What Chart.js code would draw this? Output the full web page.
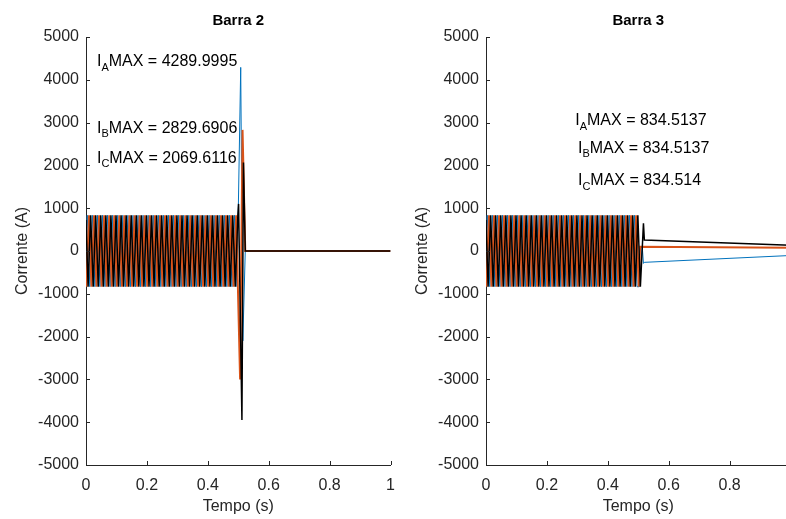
<!DOCTYPE html>
<html>
<head>
<meta charset="utf-8">
<title>Barra 2 / Barra 3</title>
<script src="https://cdn.jsdelivr.net/npm/chart.js@4.4.0/dist/chart.umd.min.js"></script>
<style>
    html, body { margin: 0; padding: 0; background: #fff; overflow: hidden; }
    #wrap { position: relative; width: 786px; height: 519px; overflow: hidden; }
    .box { position: absolute; top: 0; width: 406px; height: 519px; }
    #box2 { left: 0; z-index: 2; }
    #box3 { left: 400px; z-index: 1; }
</style>
</head>
<body>
<div id="wrap">
    <div class="box" id="box2"><canvas id="barra2" width="406" height="519"></canvas></div>
    <div class="box" id="box3"><canvas id="barra3" width="406" height="519"></canvas></div>
</div>
<script>
// pre-fault 60 Hz currents, same on both buses (peaks of each phase)
const tPreA = [0, 0.0042, 0.0125, 0.0208, 0.0292, 0.0375, 0.0458, 0.0542, 0.0625, 0.0708, 0.0792,
    0.0875, 0.0958, 0.1042, 0.1125, 0.1208, 0.1292, 0.1375, 0.1458, 0.1542, 0.1625,
    0.1708, 0.1792, 0.1875, 0.1958, 0.2042, 0.2125, 0.2208, 0.2292, 0.2375, 0.2458,
    0.2542, 0.2625, 0.2708, 0.2792, 0.2875, 0.2958, 0.3042, 0.3125, 0.3208, 0.3292,
    0.3375, 0.3458, 0.3542, 0.3625, 0.3708, 0.3792, 0.3875, 0.3958, 0.4042, 0.4125,
    0.4208, 0.4292, 0.4375, 0.4458, 0.4542, 0.4625, 0.4708, 0.4792, 0.4875, 0.4958];
const iPreA = [0,
    834.5, -834.5, 834.5, -834.5, 834.5, -834.5, 834.5, -834.5, 834.5, -834.5,
    834.5, -834.5, 834.5, -834.5, 834.5, -834.5, 834.5, -834.5, 834.5, -834.5,
    834.5, -834.5, 834.5, -834.5, 834.5, -834.5, 834.5, -834.5, 834.5, -834.5,
    834.5, -834.5, 834.5, -834.5, 834.5, -834.5, 834.5, -834.5, 834.5, -834.5,
    834.5, -834.5, 834.5, -834.5, 834.5, -834.5, 834.5, -834.5, 834.5, -834.5,
    834.5, -834.5, 834.5, -834.5, 834.5, -834.5, 834.5, -834.5, 834.5, -834.5];

const tPreB = [0, 0.0014, 0.0097, 0.0181, 0.0264, 0.0347, 0.0431, 0.0514, 0.0597, 0.0681, 0.0764,
    0.0847, 0.0931, 0.1014, 0.1097, 0.1181, 0.1264, 0.1347, 0.1431, 0.1514, 0.1597,
    0.1681, 0.1764, 0.1847, 0.1931, 0.2014, 0.2097, 0.2181, 0.2264, 0.2347, 0.2431,
    0.2514, 0.2597, 0.2681, 0.2764, 0.2847, 0.2931, 0.3014, 0.3097, 0.3181, 0.3264,
    0.3347, 0.3431, 0.3514, 0.3597, 0.3681, 0.3764, 0.3847, 0.3931, 0.4014, 0.4097,
    0.4181, 0.4264, 0.4347, 0.4431, 0.4514, 0.4597, 0.4681, 0.4764, 0.4847, 0.4931];
const iPreB = [-722.7,
    -834.5, 834.5, -834.5, 834.5, -834.5, 834.5, -834.5, 834.5, -834.5, 834.5,
    -834.5, 834.5, -834.5, 834.5, -834.5, 834.5, -834.5, 834.5, -834.5, 834.5,
    -834.5, 834.5, -834.5, 834.5, -834.5, 834.5, -834.5, 834.5, -834.5, 834.5,
    -834.5, 834.5, -834.5, 834.5, -834.5, 834.5, -834.5, 834.5, -834.5, 834.5,
    -834.5, 834.5, -834.5, 834.5, -834.5, 834.5, -834.5, 834.5, -834.5, 834.5,
    -834.5, 834.5, -834.5, 834.5, -834.5, 834.5, -834.5, 834.5, -834.5, 834.5];

const tPreC = [0, 0.0069, 0.0153, 0.0236, 0.0319, 0.0403, 0.0486, 0.0569, 0.0653, 0.0736, 0.0819,
    0.0903, 0.0986, 0.1069, 0.1153, 0.1236, 0.1319, 0.1403, 0.1486, 0.1569, 0.1653,
    0.1736, 0.1819, 0.1903, 0.1986, 0.2069, 0.2153, 0.2236, 0.2319, 0.2403, 0.2486,
    0.2569, 0.2653, 0.2736, 0.2819, 0.2903, 0.2986, 0.3069, 0.3153, 0.3236, 0.3319,
    0.3403, 0.3486, 0.3569, 0.3653, 0.3736, 0.3819, 0.3903, 0.3986, 0.4069, 0.4153,
    0.4236, 0.4319, 0.4403, 0.4486, 0.4569, 0.4653, 0.4736, 0.4819, 0.4903, 0.4986];
const iPreC = [722.7,
    -834.5, 834.5, -834.5, 834.5, -834.5, 834.5, -834.5, 834.5, -834.5, 834.5,
    -834.5, 834.5, -834.5, 834.5, -834.5, 834.5, -834.5, 834.5, -834.5, 834.5,
    -834.5, 834.5, -834.5, 834.5, -834.5, 834.5, -834.5, 834.5, -834.5, 834.5,
    -834.5, 834.5, -834.5, 834.5, -834.5, 834.5, -834.5, 834.5, -834.5, 834.5,
    -834.5, 834.5, -834.5, 834.5, -834.5, 834.5, -834.5, 834.5, -834.5, 834.5,
    -834.5, 834.5, -834.5, 834.5, -834.5, 834.5, -834.5, 834.5, -834.5, 834.5];

// Barra 2: fault transient then zero
const tA2 = [0.5080, 0.5150, 0.5230, 1.0];
const iA2 = [4290.0, -2100, 0, 0];
const tB2 = [0.5060, 0.5140, 0.5230, 1.0];
const iB2 = [-3000, 2829.7, 0, 0];
const tC2 = [0.5010, 0.5120, 0.5170, 0.5230, 1.0];
const iC2 = [1100, -3950, 2069.6, 0, 0];

// Barra 3: small spike then slowly decaying offset
const tA3 = [0.5030, 0.5130, 0.5170, 0.5200, 1.0];
const iA3 = [-834.5, 100, -290, -265, -105];
const tB3 = [0.5014, 0.5060, 1.0];
const iB3 = [-834.5, 100, 76];
const tC3 = [0.5069, 0.5170, 0.5200, 1.0];
const iC3 = [-834.5, 650, 257, 136];

// axes
const xTicks = [0, 0.2, 0.4, 0.6, 0.8, 1];
const yTicks = [-5000, -4000, -3000, -2000, -1000, 0, 1000, 2000, 3000, 4000, 5000];

// max current notes
const phases = ['A', 'B', 'C'];
const maxValues2 = ['4289.9995', '2829.6906', '2069.6116'];
const maxValues3 = ['834.5137', '834.5137', '834.514'];

const FONT = '"Liberation Sans", Arial, Helvetica, sans-serif';
const AXIS_COLOR = '#262626';
const COLORS = ['#0072BD', '#D95319', '#000000'];

Chart.defaults.font.family = FONT;

function toPoints(ts, vs) {
    return ts.map((t, i) => ({ x: t, y: vs[i] }));
}

function lineSet(ts, vs, color, width) {
    return {
        data: toPoints(ts, vs),
        borderColor: color,
        borderWidth: width,
        pointRadius: 0,
        fill: false,
        tension: 0
    };
}

//ticks point inwards like in matlab
const inwardTicks = {
    id: 'inwardTicks',
    afterDraw(chart) {
        const { ctx, chartArea, scales } = chart;
        ctx.save();
        ctx.strokeStyle = AXIS_COLOR;
        ctx.lineWidth = 1;
        ctx.beginPath();
        scales.x.ticks.forEach(t => {
            const px = Math.round(scales.x.getPixelForValue(t.value)) + 0.5;
            ctx.moveTo(px, chartArea.bottom);
            ctx.lineTo(px, chartArea.bottom - 4);
        });
        scales.y.ticks.forEach(t => {
            const py = Math.round(scales.y.getPixelForValue(t.value)) + 0.5;
            ctx.moveTo(chartArea.left, py);
            ctx.lineTo(chartArea.left + 4, py);
        });
        ctx.stroke();
        ctx.restore();
    }
};

function makeChart(id, title, sets, notes) {
    const titlePlugin = {
        id: 'axTitle',
        afterDraw(chart) {
            const { ctx, chartArea } = chart;
            ctx.save();
            ctx.font = 'bold 15px ' + FONT;
            ctx.fillStyle = '#000';
            ctx.textAlign = 'center';
            ctx.textBaseline = 'middle';
            ctx.fillText(title, (chartArea.left + chartArea.right) / 2, chartArea.top - 16);
            ctx.restore();
        }
    };
    const notesPlugin = {
        id: 'maxNotes',
        afterDatasetsDraw(chart) {
            const { ctx, scales } = chart;
            ctx.save();
            ctx.fillStyle = '#000';
            ctx.textAlign = 'left';
            ctx.textBaseline = 'middle';
            notes.forEach(n => {
                let x = scales.x.getPixelForValue(n.x);
                const y = scales.y.getPixelForValue(n.y);
                ctx.font = '16px ' + FONT;
                ctx.fillText('I', x, y);
                x += ctx.measureText('I').width;
                ctx.font = '11px ' + FONT;
                ctx.fillText(n.sub, x, y + 6);
                x += ctx.measureText(n.sub).width;
                ctx.font = '16px ' + FONT;
                ctx.fillText('MAX = ' + n.value, x, y);
            });
            ctx.restore();
        }
    };

    return new Chart(document.getElementById(id), {
        type: 'line',
        data: { datasets: sets },
        options: {
            responsive: false,
            animation: false,
            layout: { padding: { top: 37, right: 0, left: 0, bottom: 0 } },
            plugins: {
                legend: { display: false },
                tooltip: { enabled: false }
            },
            scales: {
                x: {
                    type: 'linear',
                    min: xTicks[0],
                    max: xTicks[xTicks.length - 1],
                    afterFit: s => { s.height = 54; },
                    afterBuildTicks: s => { s.ticks = xTicks.map(v => ({ value: v })); },
                    grid: { display: false, drawTicks: false, tickLength: 0 },
                    border: { color: AXIS_COLOR, width: 1 },
                    ticks: {
                        color: AXIS_COLOR,
                        padding: 11,
                        maxRotation: 0,
                        font: { size: 16 },
                        callback: v => String(Math.round(v * 10) / 10)
                    },
                    title: {
                        display: true,
                        text: 'Tempo (s)',
                        color: AXIS_COLOR,
                        font: { size: 16 },
                        padding: { top: 0, bottom: 3 }
                    }
                },
                y: {
                    type: 'linear',
                    min: yTicks[0],
                    max: yTicks[yTicks.length - 1],
                    afterFit: s => { s.width = 86; },
                    afterBuildTicks: s => { s.ticks = yTicks.map(v => ({ value: v })); },
                    grid: { display: false, drawTicks: false, tickLength: 0 },
                    border: { color: AXIS_COLOR, width: 1 },
                    ticks: {
                        color: AXIS_COLOR,
                        padding: 7,
                        font: { size: 16 },
                        callback: v => String(v)
                    },
                    title: {
                        display: true,
                        text: 'Corrente (A)',
                        color: AXIS_COLOR,
                        font: { size: 16 },
                        padding: { top: 13, bottom: 0 }
                    }
                }
            }
        },
        plugins: [inwardTicks, titlePlugin, notesPlugin]
    });
}

// phase C first so it is drawn on top
makeChart('barra2', 'Barra 2', [
    lineSet(tPreC.concat(tC2), iPreC.concat(iC2), COLORS[2], 1.5),
    lineSet(tPreB.concat(tB2), iPreB.concat(iB2), COLORS[1], 2),
    lineSet(tPreA.concat(tA2), iPreA.concat(iA2), COLORS[0], 1)
], [
    { x: 0.036, y: 4420, sub: phases[0], value: maxValues2[0] },
    { x: 0.036, y: 2870, sub: phases[1], value: maxValues2[1] },
    { x: 0.036, y: 2170, sub: phases[2], value: maxValues2[2] }
]);

makeChart('barra3', 'Barra 3', [
    lineSet(tPreC.concat(tC3), iPreC.concat(iC3), COLORS[2], 1.5),
    lineSet(tPreB.concat(tB3), iPreB.concat(iB3), COLORS[1], 2),
    lineSet(tPreA.concat(tA3), iPreA.concat(iA3), COLORS[0], 1)
], [
    { x: 0.293, y: 3040, sub: phases[0], value: maxValues3[0] },
    { x: 0.302, y: 2400, sub: phases[1], value: maxValues3[1] },
    { x: 0.302, y: 1640, sub: phases[2], value: maxValues3[2] }
]);
</script>
</body>
</html>
